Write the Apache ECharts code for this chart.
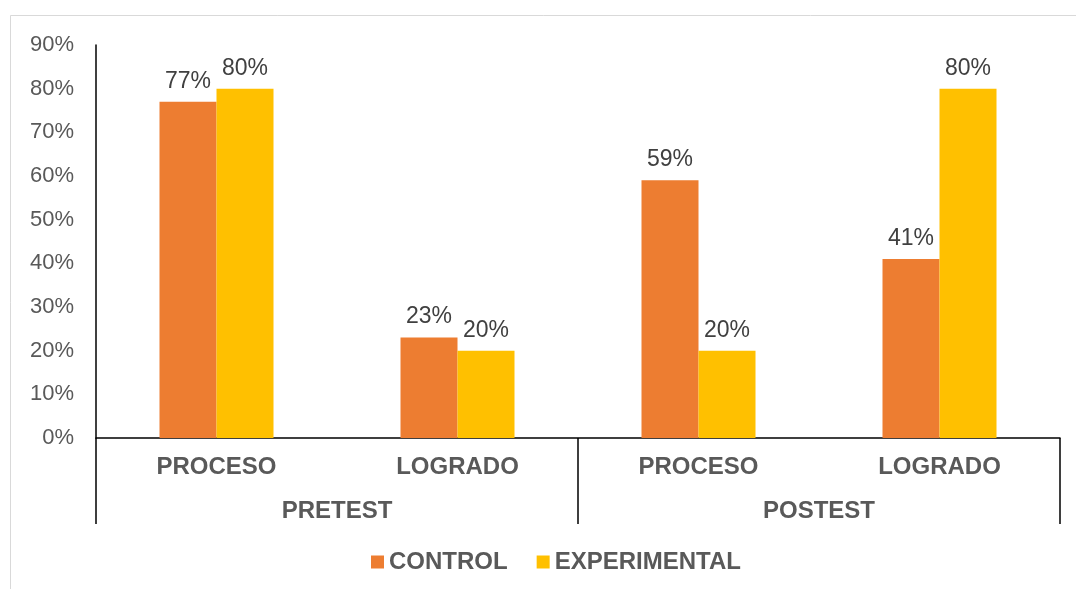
<!DOCTYPE html>
<html>
<head>
<meta charset="utf-8">
<script src="https://cdn.jsdelivr.net/npm/echarts@6/dist/echarts.min.js"></script>
<style>html,body{margin:0;padding:0;background:#fff}#c{width:1076px;height:589px}</style>
</head>
<body>
<div id="c"></div>
<script>
var categories = ['PROCESO', 'LOGRADO', 'PROCESO', 'LOGRADO'];
var groups = ['PRETEST', 'POSTEST'];
var control = [77, 23, 59, 41];
var experimental = [80, 20, 20, 80];
var yTicks = [0, 10, 20, 30, 40, 50, 60, 70, 80, 90];

var chart = echarts.init(document.getElementById('c'));
var font = 'Arial, "Liberation Sans", sans-serif';
chart.setOption({
  animation: false,
  backgroundColor: '#fff',
  graphic: [{
    type: 'rect', silent: true, z: -1,
    shape: {x: 10.5, y: 15.5, width: 1200, height: 700},
    style: {fill: 'none', stroke: '#d9d9d9', lineWidth: 1}
  }],
  grid: {left: 96, right: 16, top: 45, bottom: 151, containLabel: false},
  legend: {
    left: 366, top: 545,
    icon: 'rect', itemWidth: 13, itemHeight: 13, itemGap: 29, itemTextGap: 6,
    textStyle: {fontFamily: font, fontSize: 24, fontWeight: 'bold', color: '#595959'},
    data: ['CONTROL', 'EXPERIMENTAL']
  },
  xAxis: [{
    type: 'category', data: categories, position: 'bottom',
    axisLine: {show: true, lineStyle: {color: '#000', width: 1.5}},
    axisTick: {show: false},
    axisLabel: {margin: 17, fontFamily: font, fontSize: 24, fontWeight: 'bold', color: '#595959'}
  }, {
    type: 'category', data: groups, position: 'bottom',
    axisLine: {show: false},
    axisTick: {show: true, length: 86, alignWithLabel: false, lineStyle: {color: '#000', width: 1.5}},
    axisLabel: {margin: 61, fontFamily: font, fontSize: 24, fontWeight: 'bold', color: '#595959'}
  }],
  yAxis: {
    type: 'value', min: 0, max: 90, interval: 10,
    axisLine: {show: true, lineStyle: {color: '#000', width: 1.5}},
    axisTick: {show: false},
    splitLine: {show: false},
    axisLabel: {
      margin: 22, fontFamily: font, fontSize: 22, color: '#595959',
      formatter: function (v) { return yTicks.indexOf(v) >= 0 ? v + '%' : ''; }
    }
  },
  series: [{
    name: 'CONTROL', type: 'bar', data: control, barWidth: 57, barGap: '0%',
    itemStyle: {color: '#ED7D31'},
    label: {show: true, position: 'top', distance: 9, formatter: '{c}%', fontFamily: font, fontSize: 23, color: '#404040'}
  }, {
    name: 'EXPERIMENTAL', type: 'bar', data: experimental, barWidth: 57,
    itemStyle: {color: '#FFC000'},
    label: {show: true, position: 'top', distance: 9, formatter: '{c}%', fontFamily: font, fontSize: 23, color: '#404040'}
  }]
});
</script>
</body>
</html>
